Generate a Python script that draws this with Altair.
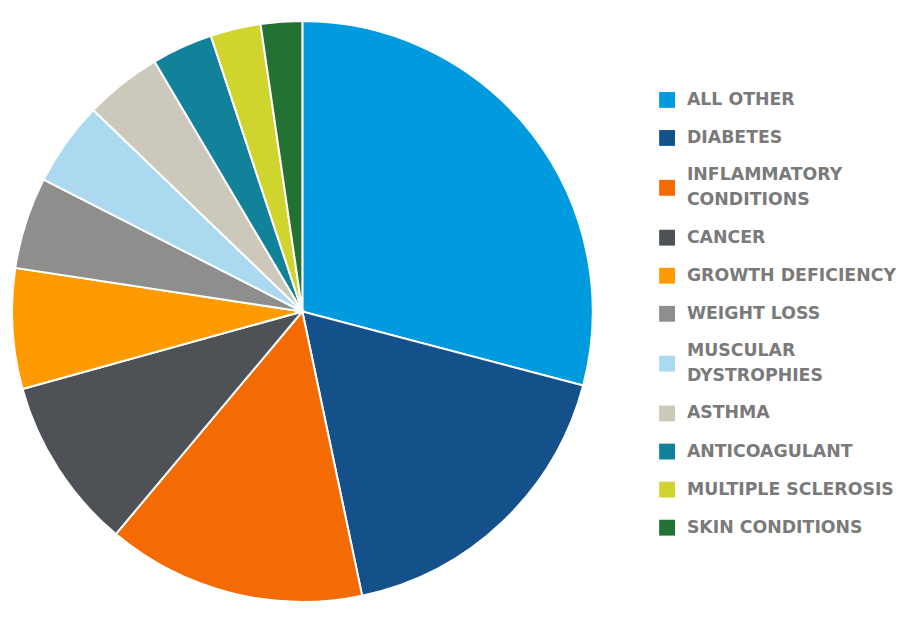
import altair as alt
import pandas as pd

categories = [
    "ALL OTHER", "DIABETES", "INFLAMMATORY|CONDITIONS", "CANCER",
    "GROWTH DEFICIENCY", "WEIGHT LOSS", "MUSCULAR|DYSTROPHIES", "ASTHMA",
    "ANTICOAGULANT", "MULTIPLE SCLEROSIS", "SKIN CONDITIONS",
]
values = [29.1, 17.6, 14.4, 9.6, 6.7, 5.1, 4.7, 4.3, 3.4, 2.8, 2.3]
colors = [
    "#009bdf", "#14518b", "#f46b04", "#4e5256", "#ff9b00", "#8e8f8c",
    "#abdaf0", "#ccc8bc", "#11829a", "#cfd52d", "#237133",
]

ROW = 38.4         # px per legend row
LINE_H = 25.0      # px between label lines
extra_unit = 0.62  # extra rows per additional label line

# legend slot (rows), derived from the number of label lines
pos, tpos = [], []
acc = 0.0
for i, c in enumerate(categories):
    n = c.count("|") + 1
    p = i + acc + extra_unit * (n - 1) / 2
    pos.append(p)
    tpos.append(p - (n - 1) * LINE_H / 2 / ROW)
    acc += extra_unit * (n - 1)

df = pd.DataFrame({
    "category": categories,
    "value": values,
    "order": list(range(len(categories))),
    "pos": pos,
    "tpos": tpos,
})

color_scale = alt.Scale(domain=categories, range=colors)
max_pos = pos[-1]

pie = alt.Chart(df).mark_arc(
    outerRadius=293, stroke="white", strokeWidth=2
).encode(
    theta=alt.Theta("value:Q", stack=True),
    order=alt.Order("order:Q"),
    color=alt.Color("category:N", scale=color_scale, legend=None),
).properties(width=586, height=607)

ysc = alt.Scale(domain=[0, max_pos], range=[90, 90 + ROW * max_pos])

sym = alt.Chart(df).mark_square(size=256, opacity=1).encode(
    x=alt.value(71),
    y=alt.Y("pos:Q", scale=ysc, axis=None),
    color=alt.Color("category:N", scale=color_scale, legend=None),
)

txt = alt.Chart(df).mark_text(
    align="left", baseline="middle", font="DejaVu Sans", fontWeight="bold",
    fontSize=17.5, color="#7a7a7a", lineBreak="|", lineHeight=LINE_H,
).encode(
    x=alt.value(91),
    y=alt.Y("tpos:Q", scale=ysc, axis=None),
    text="category:N",
)

legend = alt.layer(sym, txt).properties(width=300, height=607)

chart = alt.hconcat(pie, legend, spacing=0).properties(padding=0).configure_view(stroke=None)

chart.save("out.html", embed_options={"renderer": "svg", "actions": False})
